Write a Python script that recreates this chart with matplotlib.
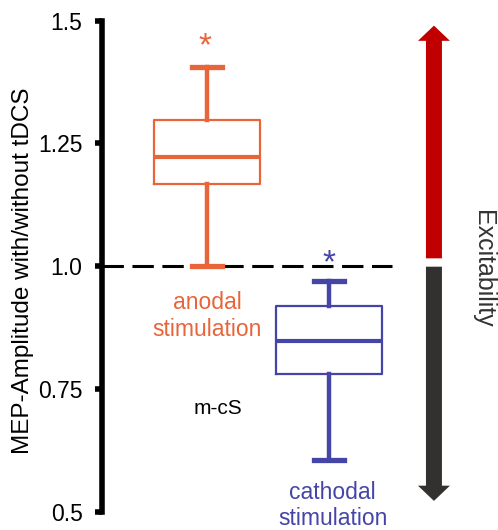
"""MEP amplitude ratio with/without tDCS, anodal vs cathodal stimulation."""
import matplotlib

matplotlib.use("Agg")

import matplotlib.pyplot as plt

# box statistics
groups = ["anodal\nstimulation", "cathodal\nstimulation"]
whisker_low = [1.00, 0.605]
q1 = [1.167, 0.780]
median = [1.222, 0.847]
q3 = [1.298, 0.918]
whisker_high = [1.406, 0.970]
colors = ["#E8653A", "#4545A8"]

yticks = [0.5, 0.75, 1.0, 1.25, 1.5]
ytick_labels = ["0.5", "0.75", "1.0", "1.25", "1.5"]

plt.rcParams["font.family"] = ["Liberation Sans", "DejaVu Sans"]

fig = plt.figure(figsize=(4.98, 5.30), dpi=100)
ax = fig.add_axes([102 / 498, 18.3 / 530, 396 / 498, 491 / 530])

positions = [1, 2]
for i, pos in enumerate(positions):
    stats = [{
        "whislo": whisker_low[i], "q1": q1[i], "med": median[i],
        "q3": q3[i], "whishi": whisker_high[i], "fliers": [],
    }]
    c = colors[i]
    ax.bxp(stats, positions=[pos], widths=0.87, capwidths=0.25,
           showfliers=False, patch_artist=False,
           boxprops=dict(color=c, linewidth=1.6),
           medianprops=dict(color=c, linewidth=3.0),
           whiskerprops=dict(color=c, linewidth=3.2),
           capprops=dict(color=c, linewidth=3.8))

# significance stars
ax.text(positions[0] - 0.02, whisker_high[0] + 0.04, "*", color=colors[0],
        ha="center", va="center", fontsize=24)
ax.text(positions[1], 1.0 + 0.005, "*", color=colors[1],
        ha="center", va="center", fontsize=24)

# baseline
ax.hlines(1.0, 0.139, 2.52, colors="black", linewidth=2.2,
          linestyles=(0, (7, 2.8)), zorder=1)

# group labels
ax.text(positions[0], 0.899, groups[0], color=colors[0], ha="center",
        va="center", fontsize=16.5, linespacing=1.2)
ax.text(positions[1] + 0.03, 0.513, groups[1], color=colors[1], ha="center",
        va="center", fontsize=16.5, linespacing=1.15, clip_on=False)
ax.text(1.09, 0.71, "m-cS", color="black", ha="center", va="center",
        fontsize=15)

# excitability arrows
ax.arrow(2.86, 1.016, 0, 1.49 - 1.016, width=0.131, head_width=0.262,
         head_length=0.031, length_includes_head=True, color="#C00000",
         linewidth=0)
ax.arrow(2.86, 0.999, 0, 0.522 - 0.999, width=0.131, head_width=0.262,
         head_length=0.031, length_includes_head=True, color="#333030",
         linewidth=0)
ax.text(3.265, 0.994, "Excitability", rotation=270, ha="center", va="center",
        fontsize=18, color="#333333")

ax.set_xlim(0.139, 3.385)
ax.set_ylim(0.5, 1.5)
ax.set_yticks(yticks)
ax.set_yticklabels(ytick_labels)
ax.set_xticks([])
ax.tick_params(axis="y", length=5, width=4, labelsize=16.5, pad=9)
for side in ["top", "right", "bottom"]:
    ax.spines[side].set_visible(False)
ax.spines["left"].set_linewidth(4)
ax.set_ylabel("MEP-Amplitude with/without tDCS", fontsize=17.5)
ax.yaxis.set_label_coords(-0.172, 0.49)

fig.savefig("out.png", dpi=100)
